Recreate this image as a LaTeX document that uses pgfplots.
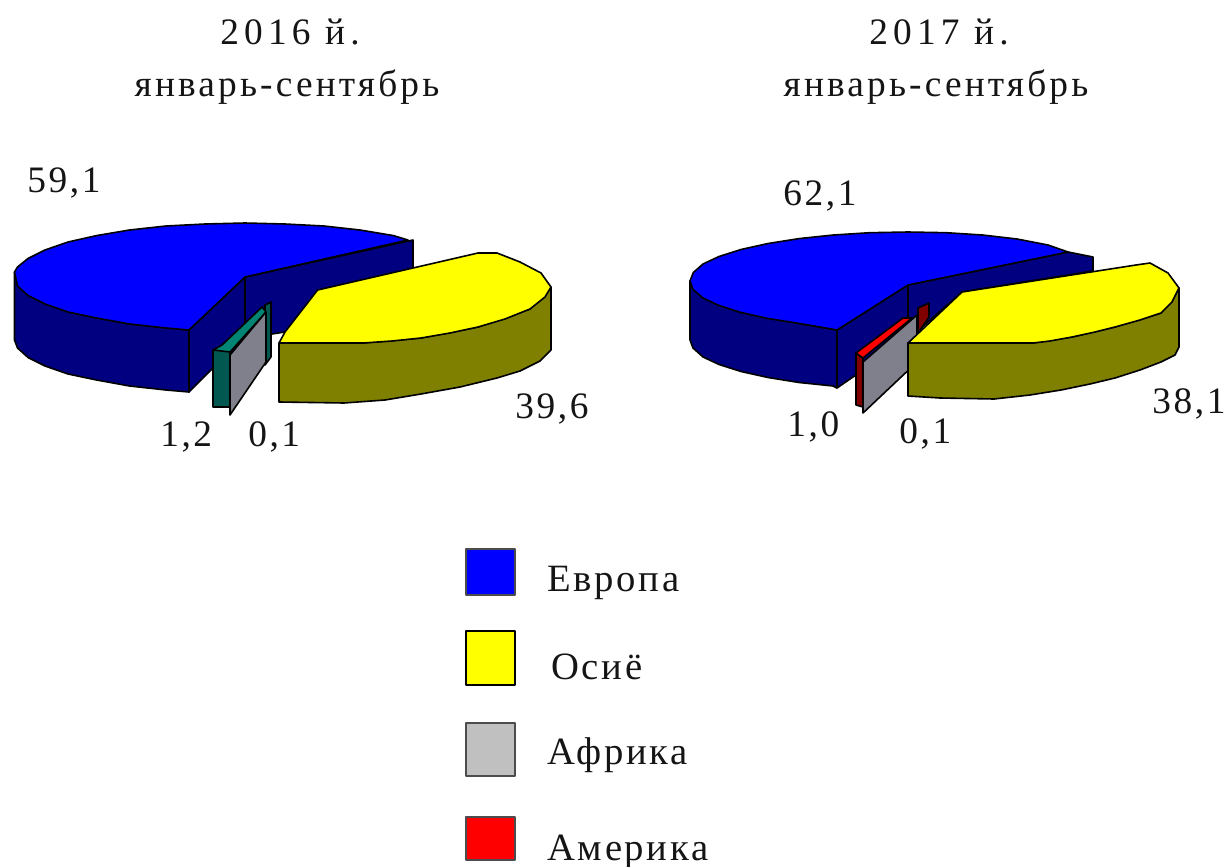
\documentclass[border=0pt]{standalone}
\usepackage{pgfplots}
\pgfplotsset{compat=1.18}
\usepackage{fontspec}
\setmainfont[LetterSpace=7]{Liberation Serif}
\newfontfamily\wideyear[LetterSpace=14]{Liberation Serif}
\newfontfamily\widetitle[LetterSpace=8.5]{Liberation Serif}
\definecolor{cblue}{HTML}{0000FF}
\definecolor{cnavy}{HTML}{000080}
\definecolor{cyel}{HTML}{FFFF00}
\definecolor{colive}{HTML}{808000}
\definecolor{cgray}{HTML}{80808C}
\definecolor{clgray}{HTML}{C0C0C0}
\definecolor{cteal}{HTML}{008575}
\definecolor{cdteal}{HTML}{005850}
\definecolor{cred}{HTML}{FF0000}
\definecolor{cdred}{HTML}{800000}
\definecolor{ctext}{HTML}{151515}
\tikzset{tt/.style={font=\fontsize{28pt}{30pt}\selectfont,text=ctext,inner sep=0pt},
 ll/.style={font=\fontsize{29pt}{30pt}\selectfont,text=ctext,inner sep=0pt}}
\begin{document}
\begin{tikzpicture}
\path[use as bounding box] (0,0) rectangle (921pt,650.25pt);
\begin{axis}[
  at={(0,0)},anchor=south west,
  width=921pt,height=650.25pt,scale only axis,
  xmin=0,xmax=1228,ymin=0,ymax=867,y dir=reverse,
  hide axis,clip=false,
  every axis plot/.append style={draw=black,line width=1.2pt,line join=round},
]
% ---- 2016 pie ----
% back cut faces
\addplot[fill=cnavy] coordinates {(245,277)(413,240)(413,272)(320,292)(285,332)(272,334)(245,345)(213,368)(189,392)(189,330)} --cycle;
\addplot[fill=cnavy] coordinates {(245,277)(245,345)} ;
% outer side
\addplot[fill=cnavy] coordinates {(14.5,272)(14.5,340)(17.5,348)(28,357.5)(45,366)(68,374)(96.5,380)(129.5,386)(166,390)(189,392)(189,330)(129.5,324)(68,312)(28,295.5)} --cycle;
% top
\addplot[fill=cblue] coordinates {(14.5,272)(17.5,267)(28,258.5)(45,250)(68,242)(96.5,235.6)(129.5,230)(166,226)(205,224)(245,223)(285,224)(324,226)(360,230)(393.5,235.6)(408,240)(245,277)(189,330)(166,328)(129.5,324)(96.5,318)(68,312)(45,304)(28,295.5)(17.5,286)} --cycle;
% small slices
\addplot[fill=cdteal] coordinates {(265,305)(271,302)(271,357)(265,365)} --cycle;
\addplot[fill=cdteal] coordinates {(213,350)(230,350)(230,407)(213,407)} --cycle;
\addplot[fill=cteal] coordinates {(213,350)(222,345)(262,307)(266,312)(230,352)} --cycle;
\addplot[fill=cgray] coordinates {(230,355)(266,312)(266,362)(230,415)} --cycle;
% yellow
\addplot[fill=colive] coordinates {(279,343)(363,343)(421,338)(478,327)(530,309)(551,287)(551,350)(540,361)(520,371)(497,378)(460,387)(421,394)(385,400)(344,403)(279,402)} --cycle;
\addplot[fill=cyel] coordinates {(317.6,290)(478,253)(497,253)(520,262)(541,273)(551,287)(545,297)(530,309)(505,319)(478,327)(450,333)(421,338)(392,341)(363,343)(279,343)(285,332)} --cycle;
% ---- 2017 pie ----
\addplot[fill=cnavy] coordinates {(908,285)(1068,252)(1093,257)(1093,271)(962,292)(919,330)(908,340)(853,377)(837,388)(837,330)} --cycle;
\addplot[fill=cnavy] coordinates {(908,285)(908,340)};
\addplot[fill=cnavy] coordinates {(690,281)(690,340)(693,348)(703,357)(719,364.5)(741,371.5)(768,377.5)(799,382.5)(833,386)(837,388)(837,330)(799,323.4)(741,312.5)(703,298)} --cycle;
\addplot[fill=cblue] coordinates {(690,281)(693.3,272.5)(703,264)(719,256.5)(741,249.5)(768,243.5)(799,238.6)(833.4,235)(870,232.7)(908,232)(946,232.7)(982.6,235)(1017,239)(1048,245)(1068,252)(908,285)(837,330)(799,323.4)(768,318.5)(741,312.5)(719,305.5)(703,298)(693,289.5)} --cycle;
\addplot[draw=black,line width=2pt] coordinates {(837,332)(837,388)};
\addplot[fill=cdred] coordinates {(918,308)(929,303)(929,317)(918,333)} --cycle;
\addplot[fill=cdred] coordinates {(856,353)(863,358)(863,407)(856,405)} --cycle;
\addplot[fill=cred] coordinates {(856,353)(903,318)(912,318)(863,358)} --cycle;
\addplot[fill=cgray] coordinates {(863,362)(917,315)(917,362)(863,413)} --cycle;
\addplot[fill=colive] coordinates {(908,343)(1033,343)(1072,337)(1115,327)(1161,313)(1179,288)(1179,347)(1175,355)(1161,362)(1140,370)(1115,378)(1090,384)(1061,390)(1030,395)(994,399)(940,398)(908,396)} --cycle;
\addplot[fill=cyel] coordinates {(962,292)(1136,265)(1150,263)(1168,273)(1179,288)(1172,302)(1161,313)(1140,320)(1115,327)(1095,332)(1072,337)(1050,341)(1033,343)(908,343)} --cycle;
% ---- legend swatches ----
\addplot[fill=cblue,draw=black!70] coordinates {(466,549)(515,549)(515,595)(466,595)} --cycle;
\addplot[fill=cyel] coordinates {(466,631)(515,631)(515,685)(466,685)} --cycle;
\addplot[fill=clgray,draw=black!70] coordinates {(466,723)(515,723)(515,776)(466,776)} --cycle;
\addplot[fill=cred,draw=black!70] coordinates {(466,817)(515,817)(515,860)(466,860)} --cycle;
% ---- text ----
\node[tt,anchor=center] at (axis cs:290,32) {\wideyear 2016 й.};
\node[tt,anchor=center] at (axis cs:287,87) {\widetitle январь-сентябрь};
\node[tt,anchor=center] at (axis cs:939,32) {\wideyear 2017 й.};
\node[tt,anchor=center] at (axis cs:936,87) {\widetitle январь-сентябрь};
\node[tt,anchor=west] at (axis cs:27,183) {59,1};
\node[tt,anchor=west] at (axis cs:515,409) {39,6};
\node[tt,anchor=west] at (axis cs:160,437) {1,2};
\node[tt,anchor=west] at (axis cs:248,437) {0,1};
\node[tt,anchor=west] at (axis cs:783,196) {62,1};
\node[tt,anchor=west] at (axis cs:1152,404) {38,1};
\node[tt,anchor=west] at (axis cs:787,427) {1,0};
\node[tt,anchor=west] at (axis cs:899,434) {0,1};
\node[ll,anchor=west] at (axis cs:547,583) {Европа};
\node[ll,anchor=west] at (axis cs:551,667) {Осиё};
\node[ll,anchor=west] at (axis cs:547,755) {Африка};
\node[ll,anchor=west] at (axis cs:547,852) {Америка};
\end{axis}
\end{tikzpicture}
\end{document}
